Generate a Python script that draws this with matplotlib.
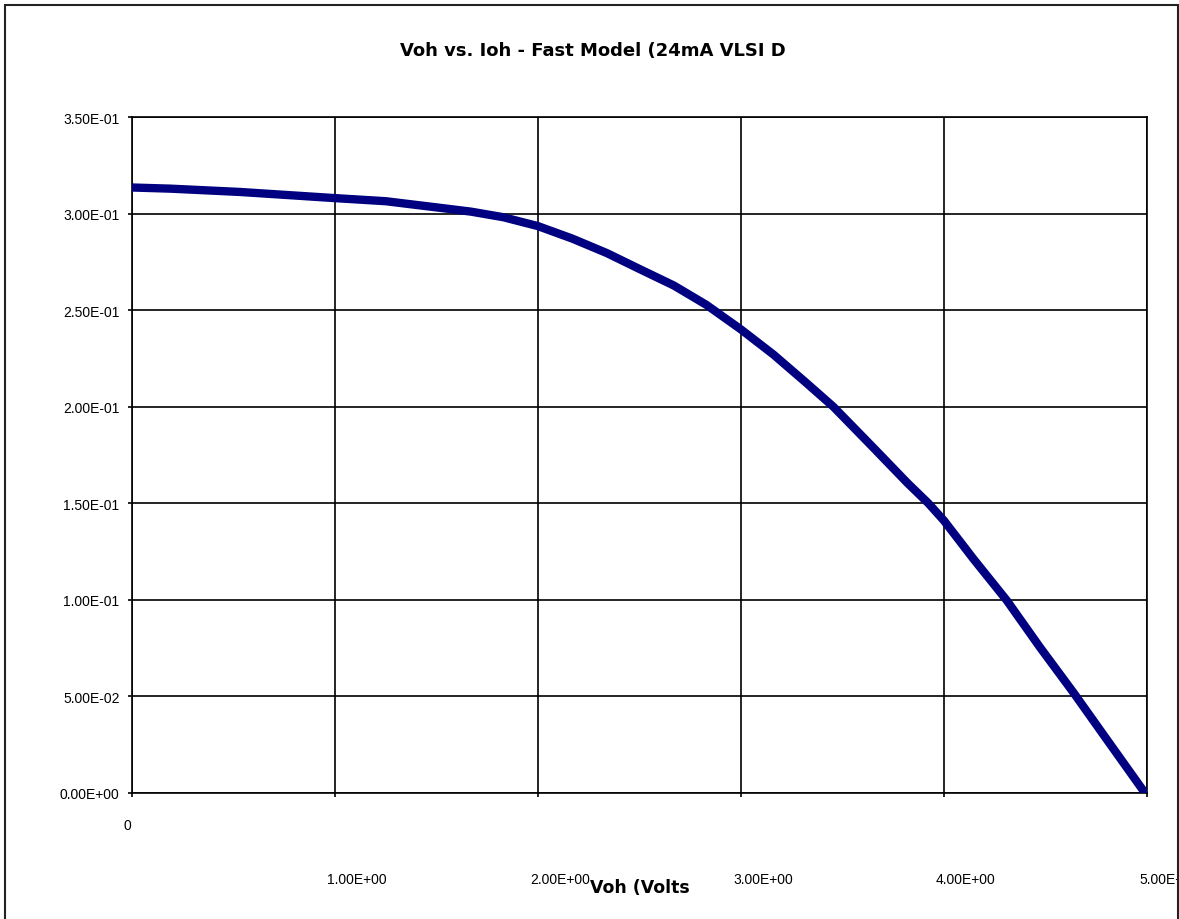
import numpy as np
import matplotlib
matplotlib.use('Agg')
import matplotlib.pyplot as plt
import matplotlib.transforms as mtransforms
from matplotlib.patches import Rectangle

# values
voh = [0.00, 0.19, 0.53, 1.00, 1.25, 1.50, 1.67, 1.83, 2.00, 2.17, 2.34, 2.50,
       2.67, 2.83, 3.00, 3.16, 3.32, 3.455, 3.65, 3.82, 3.923, 4.00, 4.145,
       4.31, 4.473, 4.637, 4.80, 4.99]
ioh = [0.3135, 0.3129, 0.3112, 0.3080, 0.3064, 0.3032, 0.3010, 0.2981, 0.2935,
       0.2870, 0.2795, 0.2713, 0.2627, 0.2527, 0.2400, 0.2270, 0.2125, 0.2000,
       0.1790, 0.1605, 0.1500, 0.1410, 0.1212, 0.0996, 0.0754, 0.0521, 0.0280,
       0.0]

xticks = [0, 1, 2, 3, 4, 5]
xticklabels = ['0', '1.00E+00', '2.00E+00', '3.00E+00', '4.00E+00', '5.00E+00']
yticks = [0.0, 0.05, 0.10, 0.15, 0.20, 0.25, 0.30, 0.35]
yticklabels = ['0.00E+00', '5.00E-02', '1.00E-01', '1.50E-01', '2.00E-01',
               '2.50E-01', '3.00E-01', '3.50E-01']

plt.rcParams['font.family'] = ['Liberation Sans', 'DejaVu Sans']

W, H = 1179, 920
fig = plt.figure(figsize=(W / 100, H / 100), dpi=100)
ax = fig.add_axes([132 / W, (H - 794) / H, 1015 / W, 676 / H])

ax.plot(voh, ioh, color='#000080', linewidth=6, solid_capstyle='round',
        solid_joinstyle='round', zorder=3)

ax.set_xlim(0, 5)
ax.set_ylim(0, 0.35)
ax.set_xticks(xticks)
ax.set_xticklabels(xticklabels, fontsize=10)
ax.set_yticks(yticks)
ax.set_yticklabels(yticklabels, fontsize=10)
ax.grid(True, color='black', linewidth=1.2)
for s in ax.spines.values():
    s.set_color('black')
    s.set_linewidth(1.2)
ax.tick_params(axis='y', direction='out', length=3, width=1.2, pad=6)
ax.tick_params(axis='x', direction='out', length=3, width=1.2, pad=54)

# shift the x tick labels like the original sheet does
for i, lab in enumerate(ax.get_xticklabels()):
    if i == 0:
        off = mtransforms.ScaledTranslation(-5 / 100, 54 / 100, fig.dpi_scale_trans)
    else:
        off = mtransforms.ScaledTranslation(22 / 100, 0, fig.dpi_scale_trans)
    lab.set_transform(lab.get_transform() + off)

fig.text(593 / W, 1 - 51 / H, 'Voh vs. Ioh - Fast Model (24mA VLSI D',
         ha='center', va='center', fontsize=13, fontweight='bold',
         family='DejaVu Sans')
fig.text(590 / W, 1 - 888 / H, 'Voh (Volts', ha='left', va='center',
         fontsize=12.5, fontweight='bold', family='DejaVu Sans')

# chart area border
fig.patches.append(Rectangle((5 / W, -0.05), 1173 / W, (H - 6) / H + 0.05,
                             transform=fig.transFigure, fill=False,
                             edgecolor='#222222', linewidth=1.5))

fig.savefig('out.png', dpi=100)
